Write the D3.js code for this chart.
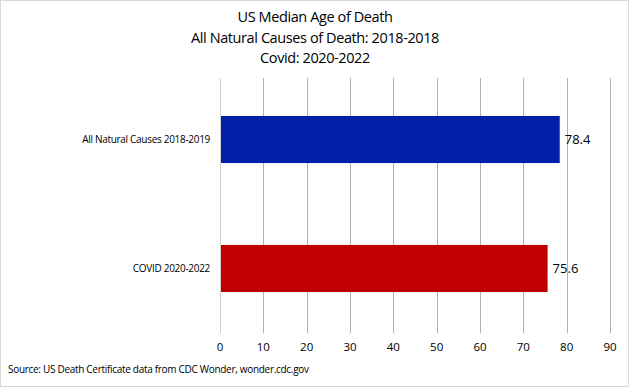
<!DOCTYPE html>
<html>
<head>
<meta charset="utf-8">
<script src="https://cdn.jsdelivr.net/npm/d3@7"></script>
<style>
  body { margin: 0; background: #fff; }
  svg { font-family: "Open Sans", "Noto Sans", sans-serif; }
</style>
</head>
<body>
<svg width="629" height="387"></svg>
<script>
// chart data
const categories = ["All Natural Causes 2018-2019", "COVID 2020-2022"]
const values = [78.4, 75.6]
const colors = ["#0020a8", "#c00000"]
const titleLines = ["US Median Age of Death", "All Natural Causes of Death: 2018-2018", "Covid: 2020-2022"]
const xTicks = [0, 10, 20, 30, 40, 50, 60, 70, 80, 90]
const source = "Source: US Death Certificate data from CDC Wonder, wonder.cdc.gov"

const width = 629
const height = 387
const margin = { top: 75, right: 19, bottom: 54, left: 220 }

const svg = d3.select("svg")

// outer border
svg.append("rect")
  .attr("x", 0.5).attr("y", 0.5)
  .attr("width", width - 1).attr("height", height - 1)
  .attr("fill", "#fff")
  .attr("stroke", "#d9d9d9")

const x = d3.scaleLinear()
  .domain([0, 90])
  .range([margin.left, width - margin.right])

const y = d3.scaleBand()
  .domain(categories)
  .range([margin.top, height - margin.bottom])
  .paddingInner(0.635)
  .paddingOuter(0.3175)

// gridlines
svg.append("g")
  .selectAll("line")
  .data(xTicks)
  .join("line")
  .attr("x1", d => Math.round(x(d)) + 0.5)
  .attr("x2", d => Math.round(x(d)) + 0.5)
  .attr("y1", margin.top + 3)
  .attr("y2", height - margin.bottom)
  .attr("stroke", d => d === 0 ? "#d0d0d0" : "#b3b3b3")
  .attr("stroke-width", 1)

// tick labels
svg.append("g")
  .selectAll("text")
  .data(xTicks)
  .join("text")
  .attr("x", d => x(d))
  .attr("y", 351)
  .attr("text-anchor", "middle")
  .attr("font-size", 11.5)
  .attr("fill", "#000")
  .text(d => d)

// bars
svg.append("g")
  .selectAll("rect")
  .data(values)
  .join("rect")
  .attr("x", x(0) + 1)
  .attr("y", (d, i) => y(categories[i]))
  .attr("width", d => x(d) - x(0) - 1)
  .attr("height", y.bandwidth())
  .attr("fill", (d, i) => colors[i])

// value labels
svg.append("g")
  .selectAll("text")
  .data(values)
  .join("text")
  .attr("x", d => x(d) + 5)
  .attr("y", (d, i) => y(categories[i]) + y.bandwidth() / 2)
  .attr("dy", "0.35em")
  .attr("font-size", 13)
  .text(d => d.toFixed(1))

// category labels
svg.append("g")
  .selectAll("text")
  .data(categories)
  .join("text")
  .attr("x", 210)
  .attr("y", d => y(d) + y.bandwidth() / 2)
  .attr("dy", "0.35em")
  .attr("text-anchor", "end")
  .attr("font-size", 10)
  .attr("letter-spacing", -0.3)
  .text(d => d)

// title
svg.append("g")
  .selectAll("text")
  .data(titleLines)
  .join("text")
  .attr("x", 315)
  .attr("y", (d, i) => 22 + i * 20.5)
  .attr("text-anchor", "middle")
  .attr("font-size", 14.5)
  .attr("letter-spacing", -0.4)
  .text(d => d)

// source note
svg.append("text")
  .attr("x", 8)
  .attr("y", 373)
  .attr("font-size", 10)
  .attr("letter-spacing", -0.3)
  .text(source)
</script>
</body>
</html>
